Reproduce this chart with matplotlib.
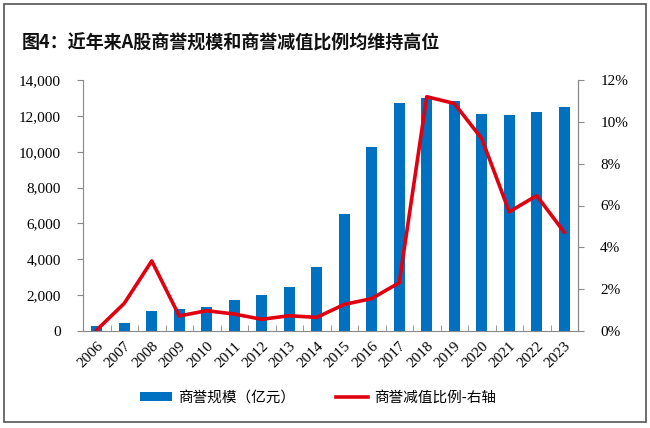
import matplotlib
matplotlib.use("Agg")
import matplotlib.pyplot as plt
from matplotlib.patches import Rectangle
from matplotlib.ticker import FuncFormatter, FixedLocator

plt.rcParams['font.family'] = ['Liberation Serif', 'Noto Sans CJK SC', 'DejaVu Sans']

years = [str(y) for y in range(2006, 2024)]
goodwill = [300, 430, 1130, 1210, 1320, 1730, 1990, 2440, 3550,
            6510, 10250, 12700, 13020, 12820, 12110, 12040, 12240, 12480]
impair_ratio = [0.05, 1.32, 3.35, 0.72, 0.97, 0.81, 0.56, 0.73, 0.65,
                1.27, 1.55, 2.31, 11.2, 10.88, 9.2, 5.7, 6.47, 4.72]

title = "图4：近年来A股商誉规模和商誉减值比例均维持高位"
bar_label = "商誉规模（亿元）"
line_label = "商誉减值比例-右轴"

BLUE = "#0070C0"
RED = "#E00010"

fig = plt.figure(figsize=(6.5, 4.28), dpi=100)
fig.patches.append(Rectangle((4/650, 1-422/428), 642/650, 418/428,
                             transform=fig.transFigure, fill=False,
                             edgecolor="#555555", linewidth=1.2))

fig.text(22/650, 1-43/428, title, fontsize=13, fontweight="bold",
         family=['Noto Sans CJK SC'], va="center", ha="left", color="#111111")

ax = fig.add_axes([83/650, 1-331/428, 495/650, 251/428])
x = list(range(len(years)))
ax.bar(x, goodwill, width=0.4, color=BLUE, label=bar_label, zorder=2)
ax.set_xlim(-0.5, len(years)-0.5)
ax.set_ylim(0, 14000)
ax.set_yticks(range(0, 14001, 2000))
ax.yaxis.set_major_formatter(FuncFormatter(lambda v, p: f"{int(v):,}"))
ax.tick_params(axis='y', direction='out', length=4, pad=12, labelsize=11,
               color="#888888")
ax.set_xticks(x)
ax.set_xticklabels(years, rotation=45, ha="right", rotation_mode="anchor",
                   fontsize=11)
ax.tick_params(axis='x', which='major', length=0, pad=6)
ax.xaxis.set_minor_locator(FixedLocator([i - 0.5 for i in range(len(years)+1)]))
ax.tick_params(axis='x', which='minor', direction='in', length=4, color="#888888")
for s in ['top']:
    ax.spines[s].set_visible(False)
for s in ['left', 'bottom', 'right']:
    ax.spines[s].set_color("#888888")

ax2 = ax.twinx()
ax2.plot(x, impair_ratio, color=RED, linewidth=2.6, label=line_label, zorder=3)
ax2.set_ylim(0, 12)
ax2.set_yticks(range(0, 13, 2))
ax2.yaxis.set_major_formatter(FuncFormatter(lambda v, p: f"{int(v)}%"))
ax2.tick_params(axis='y', direction='out', length=4, pad=12, labelsize=11,
                color="#888888")
ax2.spines['top'].set_visible(False)
ax2.spines['right'].set_color("#888888")
ax2.spines['left'].set_visible(False)
ax2.spines['bottom'].set_visible(False)

h1, l1 = ax.get_legend_handles_labels()
h2, l2 = ax2.get_legend_handles_labels()
fig.legend(h1 + h2, l1 + l2, loc="center", bbox_to_anchor=(318/650, 1-398/428),
           ncol=2, frameon=False, handlelength=2.2, handleheight=0.6,
           columnspacing=2.8, handletextpad=0.4,
           prop={'family': ['Noto Sans CJK SC'], 'size': 10.5})

fig.savefig("out.png", dpi=100)
